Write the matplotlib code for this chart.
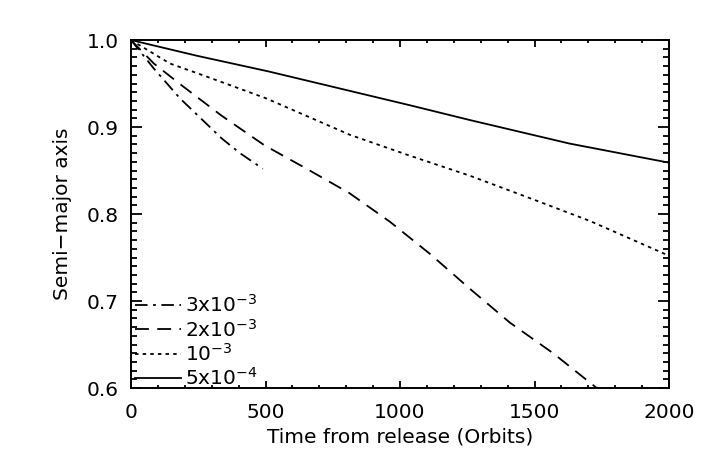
import numpy as np
import matplotlib
matplotlib.use("Agg")
import matplotlib.pyplot as plt
from matplotlib.ticker import MultipleLocator

# values (orbits, semi-major axis)
t_3e3 = [0, 83, 182, 337, 405, 490]
a_3e3 = [1.0, 0.968, 0.933, 0.887, 0.870, 0.852]

t_2e3 = [0, 85, 188, 337, 496, 653, 812, 963, 1112, 1260, 1409, 1569, 1731]
a_2e3 = [1.0, 0.973, 0.948, 0.913, 0.879, 0.852, 0.824, 0.791, 0.754, 0.714, 0.675, 0.640, 0.600]

t_1e3 = [0, 145, 281, 502, 814, 1037, 1260, 1502, 1706, 2000]
a_1e3 = [1.0, 0.973, 0.958, 0.933, 0.891, 0.867, 0.844, 0.816, 0.792, 0.752]

t_5e4 = [0, 244, 510, 1037, 1260, 1630, 2000]
a_5e4 = [1.0, 0.982, 0.964, 0.925, 0.908, 0.881, 0.859]

labels = [r'3x10$^{-3}$', r'2x10$^{-3}$', r'10$^{-3}$', r'5x10$^{-4}$']

plt.rcParams['font.family'] = 'DejaVu Sans'
plt.rcParams['mathtext.fontset'] = 'dejavusans'
plt.rcParams['lines.scale_dashes'] = False

fig = plt.figure(figsize=(7.08, 4.71), dpi=100)
ax = fig.add_axes([0.185, 0.1762, 0.760, 0.7388])

lw = 1.3
ax.plot(t_3e3, a_3e3, color='black', lw=lw, ls=(0, (9, 4, 2, 4)), label=labels[0])
ax.plot(t_2e3, a_2e3, color='black', lw=lw, ls=(0, (10, 6)), label=labels[1])
ax.plot(t_1e3, a_1e3, color='black', lw=lw, ls=(0, (2.5, 3)), label=labels[2])
ax.plot(t_5e4, a_5e4, color='black', lw=lw, ls='-', label=labels[3])

ax.set_xlim(0, 2000)
ax.set_ylim(0.6, 1.0)
ax.xaxis.set_major_locator(MultipleLocator(500))
ax.xaxis.set_minor_locator(MultipleLocator(100))
ax.yaxis.set_major_locator(MultipleLocator(0.1))
ax.yaxis.set_minor_locator(MultipleLocator(0.01))
ax.yaxis.set_major_formatter(matplotlib.ticker.FormatStrFormatter('%.1f'))

ax.tick_params(axis='both', which='both', direction='in', top=True, right=True,
               width=1.3, labelsize=14.5)
ax.tick_params(axis='x', which='major', length=5, pad=11)
ax.tick_params(axis='x', which='minor', length=2.5)
ax.tick_params(axis='y', which='major', length=7.7, pad=9)
ax.tick_params(axis='y', which='minor', length=4.3)
for s in ax.spines.values():
    s.set_linewidth(1.4)

ax.set_xlabel('Time from release (Orbits)', fontsize=14.5, labelpad=4)
ax.set_ylabel('Semi\u2212major axis', fontsize=14.5, labelpad=10)

ax.legend(loc='lower left', frameon=False, fontsize=14.5, handlelength=2.3,
          handletextpad=0.2, labelspacing=0.12, borderaxespad=0.0, borderpad=0.0,
          bbox_to_anchor=(0.007, -0.003))

fig.savefig('out.png', dpi=100)
